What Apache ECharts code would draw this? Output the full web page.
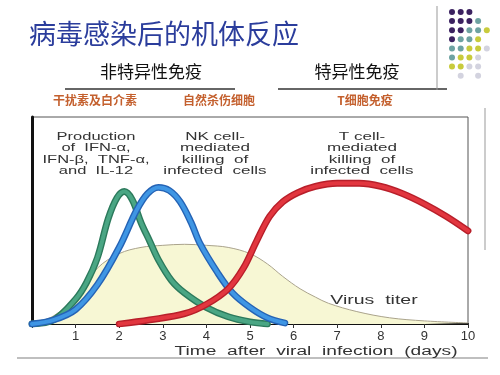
<!DOCTYPE html>
<html><head><meta charset="utf-8">
<script src="https://cdn.jsdelivr.net/npm/echarts@6/dist/echarts.min.js"></script>
<style>html,body{margin:0;padding:0;background:#fff}#c{width:500px;height:375px}</style>
</head><body><div id="c"></div>
<script>
// ---- data ----
const tickLabels = ['', '1', '2', '3', '4', '5', '6', '7', '8', '9', '10'];
const ifnDays   = [0, 0.5, 1, 1.25, 1.5, 1.75, 1.95, 2.12, 2.3, 2.5, 2.7, 2.9, 3.2, 3.5, 4, 4.5, 5, 5.4];
const ifnValues = [0, 2, 12, 20, 32, 51, 61, 64, 60, 49, 40, 31, 21, 15, 8, 3.5, 1, 0];
const nkDays    = [0, 0.5, 1, 1.5, 2, 2.4, 2.65, 2.9, 3.15, 3.4, 3.65, 3.85, 4.25, 4.6, 5, 5.4, 5.8];
const nkValues  = [0, 2, 7, 19, 37, 55, 63, 66, 64.5, 59, 49, 39, 25, 15, 8, 3, 0.5];
const tDays     = [2, 2.7, 3.5, 4, 4.5, 4.85, 5.15, 5.45, 5.75, 6.1, 6.5, 7, 7.5, 8, 8.5, 9, 9.5, 10];
const tValues   = [0, 2, 5, 9.5, 17, 27, 40, 52, 59, 63.5, 66.5, 68, 68, 66.5, 63, 58, 52, 45];
const titerDays   = [0, 0.5, 1, 1.5, 2, 2.5, 3, 3.5, 4, 4.5, 5, 5.4, 5.75, 6.15, 6.5, 6.8, 7.45, 8.2, 9, 10];
const titerValues = [0, 4, 13, 27, 34, 37, 38, 38.5, 38, 37, 34, 29, 23, 17, 13, 10, 6, 3, 1.5, 0.5];

const zip = (xs, ys) => xs.map((x, i) => [x, ys[i]]);

function curve(name, xs, ys, outer, inner) {
  const d = zip(xs, ys);
  return [
    {name: name, type: 'line', data: d, smooth: 0.35, symbol: 'none', silent: true,
     lineStyle: {color: outer, width: 6.8, cap: 'round'}},
    {name: name, type: 'line', data: d, smooth: 0.35, symbol: 'none', silent: true,
     lineStyle: {color: inner, width: 4, cap: 'round'}}
  ];
}

const sans = '"Liberation Sans", Arial, sans-serif';
const cjk = '"Noto Sans CJK SC", sans-serif';

function label(text, x, y, size, scaleX, opts) {
  opts = opts || {};
  return {type: 'text', x: x, y: y, scaleX: scaleX || 1, silent: true, z: 100,
    style: {text: text, fontSize: size, fontFamily: opts.family || sans, fontWeight: opts.weight || 'normal',
      fill: opts.color || '#333', align: 'center', verticalAlign: opts.va || 'middle',
      textAlign: 'center', textVerticalAlign: opts.va || 'middle', lineHeight: opts.lh}};
}

// decorative dot pattern (slide template)
const dotColors = {p: '#3b2160', t: '#6ea3a2', y: '#c8cb3c', g: '#d3d3df'};
const dotRows = ['ppp', 'pppt', 'pptty', 'ptty', 'ttyyg', 'tyyg', 'yygg', '.g.g'];
const dots = [];
dotRows.forEach((row, r) => {
  row.split('').forEach((c, k) => {
    if (dotColors[c]) dots.push({type: 'circle', silent: true,
      shape: {cx: 452 + k * 8.7, cy: 12 + r * 9.1, r: 3}, style: {fill: dotColors[c]}});
  });
});

const chart = echarts.init(document.getElementById('c'));
chart.setOption({
  animation: false,
  backgroundColor: '#fff',
  grid: {left: 32, right: 32, top: 117, bottom: 51, show: true, borderColor: '#555', borderWidth: 1},
  xAxis: {type: 'value', min: 0, max: 10, interval: 1,
    axisLine: {onZero: false, lineStyle: {color: '#111', width: 2}},
    axisTick: {show: true, length: 4, lineStyle: {color: '#333'}},
    axisLabel: {formatter: v => tickLabels[v], color: '#333', fontSize: 13, margin: 6, fontFamily: sans},
    splitLine: {show: false}},
  yAxis: {type: 'value', min: 0, max: 100,
    axisLine: {show: true, lineStyle: {color: '#111', width: 3}},
    axisTick: {show: false}, axisLabel: {show: false}, splitLine: {show: false}},
  series: [
    {name: 'Virus titer', type: 'line', data: zip(titerDays, titerValues), smooth: 0.35, symbol: 'none', silent: true,
     lineStyle: {color: '#aaa38c', width: 1}, areaStyle: {color: '#f7f7d4', opacity: 1}},
    ...curve('IFN', ifnDays, ifnValues, '#2c7a5c', '#4aa684'),
    ...curve('NK', nkDays, nkValues, '#2563b5', '#3f96e4'),
    ...curve('T', tDays, tValues, '#b81f2a', '#e2363f')
  ],
  graphic: [
    label('病毒感染后的机体反应', 164, 34, 27, 1, {family: cjk, color: '#2b3d9c'}),
    label('非特异性免疫', 151, 72, 17, 1, {family: cjk, color: '#111'}),
    label('特异性免疫', 357, 72, 17, 1, {family: cjk, color: '#111'}),
    label('干扰素及白介素', 95, 100, 12, 1, {family: cjk, color: '#c4602e', weight: 'bold'}),
    label('自然杀伤细胞', 219, 100, 12, 1, {family: cjk, color: '#c4602e', weight: 'bold'}),
    label('T细胞免疫', 365, 100, 12, 1, {family: cjk, color: '#c4602e', weight: 'bold'}),
    label('Production\nof  IFN-α,\nIFN-β,  TNF-α,\nand  IL-12', 96, 131, 11, 1.5, {va: 'top', lh: 11.5}),
    label('NK cell-\nmediated\nkilling  of\ninfected  cells', 215, 131, 11, 1.55, {va: 'top', lh: 11.5}),
    label('T cell-\nmediated\nkilling  of\ninfected  cells', 362, 131, 11, 1.55, {va: 'top', lh: 11.5}),
    label('Virus  titer', 374, 300, 13, 1.5),
    label('Time  after  viral  infection  (days)', 316, 352, 12, 1.6),
    {type: 'line', silent: true, shape: {x1: 65, y1: 89, x2: 235, y2: 89}, style: {stroke: '#333', lineWidth: 1.5}},
    {type: 'line', silent: true, shape: {x1: 278, y1: 89, x2: 447, y2: 89}, style: {stroke: '#333', lineWidth: 1.5}},
    {type: 'line', silent: true, shape: {x1: 437, y1: 6, x2: 437, y2: 90}, style: {stroke: '#999', lineWidth: 1}},
    {type: 'line', silent: true, shape: {x1: 485, y1: 108, x2: 485, y2: 250}, style: {stroke: '#999', lineWidth: 1}},
    {type: 'line', silent: true, shape: {x1: 17, y1: 358, x2: 488, y2: 358}, style: {stroke: '#aaa', lineWidth: 1.5}},
    ...dots
  ]
});
</script>
</body></html>
